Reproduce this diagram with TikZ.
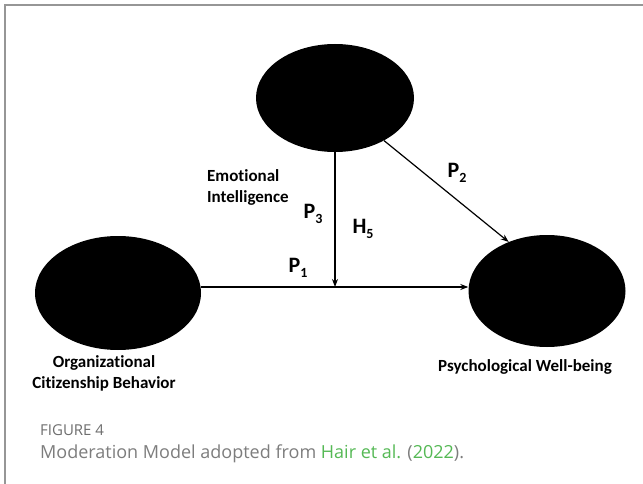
\documentclass[tikz,border=0pt]{standalone}
\usepackage{fontspec}
\setmainfont{Carlito}[Ligatures={NoCommon}]
\newfontfamily\capfont{Open Sans}
\usetikzlibrary{arrows.meta,shapes.geometric}
\definecolor{framegray}{RGB}{150,150,150}
\definecolor{capgray}{RGB}{125,125,125}
\definecolor{figgray}{RGB}{110,110,110}
\definecolor{linkgreen}{RGB}{85,185,85}
\newcommand{\psub}[2]{#1\raisebox{-0.45ex}{\fontsize{14}{14}\selectfont #2}}
\tikzset{
  latent/.style={ellipse, fill=black, inner sep=0pt},
  lbl/.style={font=\bfseries\fontsize{17}{21}\selectfont, align=center, inner sep=0pt},
  plbl/.style={font=\bfseries\fontsize{22}{22}\selectfont, inner sep=0pt},
  arr/.style={-{Stealth[length=8pt,width=6pt]}, line width=1.2pt}
}
\begin{document}
\begin{tikzpicture}[x=1pt,y=-1pt]
\useasboundingbox (0,0) rectangle (643,484);
\fill[white] (0,0) rectangle (643,484);
\draw[framegray, line width=1.5pt] (5,484) -- (5,5) -- (643,5);
% ellipses
\node[latent, minimum width=158pt, minimum height=108pt] (ei) at (335,98) {};
\node[latent, minimum width=166pt, minimum height=114pt] (ocb) at (118,293) {};
\node[latent, minimum width=157pt, minimum height=112pt] (pwb) at (547,291) {};
\coordinate (mid) at (335,287);
\draw[arr] (ocb.east |- mid) -- (pwb.west |- mid);
\draw[arr] (ei.south) -- (mid);
\draw[arr] (ei.-41) -- (pwb.128);
% labels
\node[lbl, align=left, anchor=west] (eil) at (207,187) {Emotional\\Intelligence};
\node[plbl] (p3) at (313,214) {\psub{P}{3}};
\node[plbl] (h5) at (363,229) {\psub{H}{5}};
\node[plbl] (p1) at (298,268) {\psub{P}{1}};
\node[plbl] (p2) at (457,173) {\psub{P}{2}};
\node[lbl] (ocbl) at (104,373) {Organizational\\Citizenship Behavior};
\node[lbl] (pwbl) at (525,367) {Psychological Well-being};
% caption
\node[anchor=west, inner sep=0pt, text=figgray, font=\capfont\fontsize{15}{16}\selectfont] (fig) at (40,430) {FIGURE 4};
\node[anchor=west, inner sep=0pt, text=capgray, font=\capfont\fontsize{18}{20}\selectfont] (cap) at (40,454) {Moderation Model adopted from \textcolor{linkgreen}{Hair et al.} (\textcolor{linkgreen}{2022}).};
\end{tikzpicture}
\end{document}
